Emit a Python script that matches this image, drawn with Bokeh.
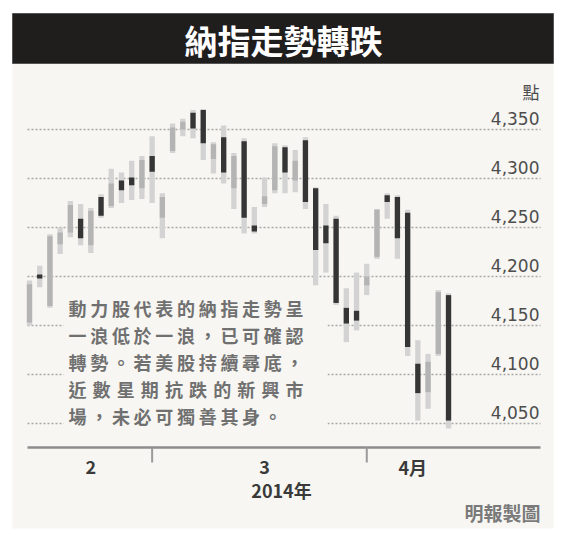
from bokeh.plotting import figure
from bokeh.models import Range1d
from bokeh.core.properties import value
from bokeh.embed import file_html
from bokeh.resources import INLINE

# ---------------- data ----------------
dates = ["2014-02-11", "2014-02-12", "2014-02-13", "2014-02-14", "2014-02-18",
         "2014-02-19", "2014-02-20", "2014-02-21", "2014-02-24", "2014-02-25",
         "2014-02-26", "2014-02-27", "2014-02-28",
         "2014-03-03", "2014-03-04", "2014-03-05", "2014-03-06", "2014-03-07",
         "2014-03-10", "2014-03-11", "2014-03-12", "2014-03-13", "2014-03-14",
         "2014-03-17", "2014-03-18", "2014-03-19", "2014-03-20", "2014-03-21",
         "2014-03-24", "2014-03-25", "2014-03-26", "2014-03-27", "2014-03-28",
         "2014-03-31",
         "2014-04-01", "2014-04-02", "2014-04-03", "2014-04-04", "2014-04-07",
         "2014-04-08", "2014-04-09", "2014-04-10"]
opens = [4153, 4202, 4170, 4233, 4245, 4259, 4232, 4281, 4272, 4298, 4301, 4290, 4323,
         4260, 4328, 4350, 4367, 4370, 4320, 4342, 4290, 4338, 4252, 4274, 4288, 4332,
         4298, 4339, 4290, 4252, 4259, 4168, 4165, 4191,
         4220, 4283, 4281, 4265, 4111, 4082, 4121, 4181]
highs = [4196, 4211, 4243, 4250, 4277, 4274, 4270, 4284, 4310, 4306, 4318, 4323, 4343,
         4285, 4356, 4361, 4370, 4371, 4337, 4354, 4326, 4341, 4271, 4301, 4336, 4334,
         4329, 4342, 4291, 4274, 4262, 4188, 4204, 4213,
         4269, 4285, 4283, 4268, 4135, 4121, 4186, 4183]
lows = [4150, 4189, 4168, 4223, 4240, 4232, 4224, 4260, 4270, 4275, 4278, 4279, 4275,
        4239, 4326, 4343, 4341, 4319, 4305, 4295, 4269, 4244, 4244, 4271, 4285, 4285,
        4286, 4269, 4191, 4204, 4171, 4133, 4145, 4181,
        4218, 4259, 4218, 4119, 4053, 4065, 4119, 4045]
closes = [4192, 4198, 4241, 4245, 4273, 4239, 4267, 4262, 4295, 4288, 4293, 4319, 4307,
          4281, 4352, 4358, 4351, 4336, 4335, 4306, 4323, 4260, 4246, 4282, 4333, 4306,
          4318, 4276, 4227, 4234, 4173, 4152, 4155, 4200,
          4268, 4276, 4239, 4128, 4081, 4113, 4184, 4053]

y_ticks = [4050, 4100, 4150, 4200, 4250, 4300, 4350]
y_tick_labels = ["4,050", "4,100", "4,150", "4,200", "4,250", "4,300", "4,350"]
y_unit = "點"
month_labels = ["2", "3", "4月"]
year_label = "2014年"
title_text = "納指走勢轉跌"
note_lines = ["動力股代表的納指走勢呈",
              "一浪低於一浪，已可確認",
              "轉勢。若美股持續尋底，",
              "近數星期抗跌的新興市",
              "場，未必可獨善其身。"]
source_text = "明報製圖"

# ---------------- layout helpers (page pixel -> data) ----------------
W, H = 556, 534
OFF = 0                   # canvas origin on the photographed page
X0, DX = 29.0, 10.22      # page x of first candle, px per trading day
Y0, DY = 129.0, 0.98      # page y of 4350 line, px per index point


def fx(px):
    return (px - X0) / DX


def fy(py):
    return 4350 - (py - Y0) / DY


p = figure(width=W, height=H, output_backend="svg", toolbar_location=None,
           x_axis_type=None, y_axis_type=None, min_border=0,
           x_range=Range1d(fx(OFF), fx(OFF + W)),
           y_range=Range1d(fy(OFF + H), fy(OFF)))
p.outline_line_color = None
p.background_fill_color = "#ffffff"
p.border_fill_color = "#ffffff"
p.grid.visible = False

FONT = value("Noto Sans CJK TC")
PANEL = "#f7f6f2"

# panel + title bar
p.quad(left=[fx(12)], right=[fx(553)], top=[fy(63)], bottom=[fy(528)],
       fill_color=PANEL, line_color=None)
p.quad(left=[fx(12)], right=[fx(553)], top=[fy(13)], bottom=[fy(63)],
       fill_color="#201d1d", line_color="#555555", line_width=1)
p.text(x=[fx(283)], y=[fy(39)], text=[title_text], text_font=FONT,
       text_font_style="bold", text_font_size="33px", text_color="#ffffff",
       text_align="center", text_baseline="middle")

# dotted gridlines
p.segment(x0=[fx(27)] * len(y_ticks), x1=[fx(540)] * len(y_ticks),
          y0=y_ticks, y1=y_ticks, line_color="#a8a8a8", line_width=1.5,
          line_dash="2 2")

# tick labels (above their lines, right aligned)
p.text(x=[fx(539)] * len(y_ticks), y=[t + 11 / DY for t in y_ticks],
       text=y_tick_labels, text_font=value("DejaVu Sans"), text_font_size="17px",
       text_color="#4d4d4d", text_align="right", text_baseline="middle")
p.text(x=[fx(539)], y=[fy(91)], text=[y_unit], text_font=FONT,
       text_font_size="17px", text_color="#4d4d4d", text_align="right",
       text_baseline="middle")

# box behind the note
p.quad(left=[fx(63)], right=[fx(327)], top=[fy(289)], bottom=[fy(433)],
       fill_color=PANEL, line_color=None)

# candles
idx = list(range(len(dates)))
up = [i for i in idx if closes[i] >= opens[i]]
dn = [i for i in idx if closes[i] < opens[i]]
p.vbar(x=idx, top=highs, bottom=lows, width=0.52, fill_color="#d3d3d3",
       line_color=None)
p.vbar(x=up, top=[closes[i] for i in up], bottom=[opens[i] for i in up],
       width=0.52, fill_color="#b4b4b4", line_color=None)
p.vbar(x=dn, top=[opens[i] for i in dn], bottom=[closes[i] for i in dn],
       width=0.52, fill_color="#353535", line_color=None)

# x axis
p.segment(x0=[fx(27)], x1=[fx(540)], y0=[fy(447)], y1=[fy(447)],
          line_color="#8c8c8c", line_width=2.5)
months = [d[5:7] for d in dates]
seps = [i for i in idx[:-1] if months[i] != months[i + 1]]
p.segment(x0=seps, x1=seps, y0=[fy(447)] * len(seps), y1=[fy(462)] * len(seps),
          line_color="#9a9a9a", line_width=2)
groups = []
for m in dict.fromkeys(months):
    ii = [i for i in idx if months[i] == m]
    groups.append(sum(ii) / len(ii))
p.text(x=groups, y=[fy(466)] * len(groups), text=month_labels, text_font=FONT,
       text_font_style="bold", text_font_size="18px", text_color="#3a3a3a",
       text_align="center", text_baseline="middle")
p.text(x=[fx(281)], y=[fy(489)], text=[year_label], text_font=FONT,
       text_font_style="bold", text_font_size="18px", text_color="#3a3a3a",
       text_align="center", text_baseline="middle")
p.text(x=[fx(540)], y=[fy(512)], text=[source_text], text_font=FONT,
       text_font_style="bold", text_font_size="19px", text_color="#7a7a7a",
       text_align="right", text_baseline="middle")

# note text, character by character (justified block)
cx, cy, ct = [], [], []
pitch = 21.7
full = 10 * pitch
line_y = [307, 334, 361, 388, 415]
for k, line in enumerate(note_lines):
    n = len(line)
    step = full / (n - 1) if k == 3 else pitch
    for j, ch in enumerate(line):
        cx.append(fx(68 + j * step))
        cy.append(fy(line_y[k]))
        ct.append(ch)
p.text(x=cx, y=cy, text=ct, text_font=FONT, text_font_style="bold",
       text_font_size="18px", text_color="#707070", text_align="left",
       text_baseline="middle")

open("out.html", "w").write(file_html(p, INLINE))
